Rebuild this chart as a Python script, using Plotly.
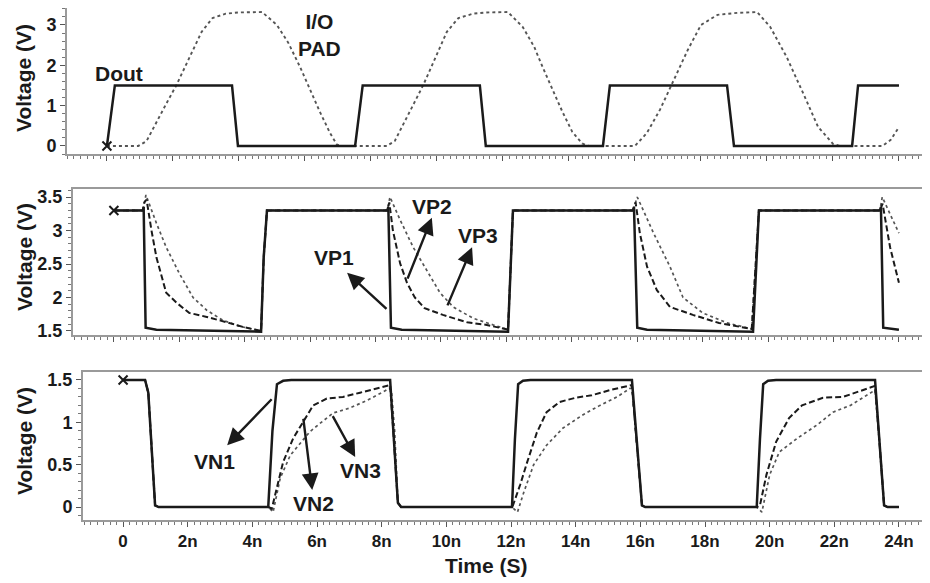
import plotly.graph_objects as go

# ---------------- data ----------------
# Top panel (time in ns, voltage in V)
dout_t = [0, 0.24, 3.79, 3.97, 7.52, 7.75, 11.3, 11.48, 15.03, 15.24, 18.79, 19.0, 22.58, 22.76, 24.0]
dout_v = [0, 1.5, 1.5, 0, 0, 1.5, 1.5, 0, 0, 1.5, 1.5, 0, 0, 1.5, 1.5]

pad_t = [0, 0.95, 1.2, 1.5, 1.8, 2.1, 2.5, 2.87, 3.2, 3.6, 4.0, 4.7, 5.15, 5.5, 5.85, 6.15, 6.45, 6.76, 6.97, 7.1,
         8.48, 8.72, 9.0, 9.3, 9.58, 9.95, 10.3, 10.65, 11.1, 11.5, 12.15, 12.6, 12.95, 13.2, 13.5, 13.8, 14.1, 14.4, 14.6,
         16.0, 16.36, 16.76, 17.1, 17.6, 18.0, 18.5, 19.1, 19.7, 20.1, 20.6, 21.1, 21.55, 22.0, 22.2,
         23.5, 23.75, 24.0]
pad_v = [0, 0, 0.12, 0.6, 1.05, 1.5, 2.2, 2.83, 3.17, 3.28, 3.31, 3.32, 3.0, 2.55, 1.96, 1.4, 0.85, 0.32, 0.03, 0,
         0, 0.12, 0.55, 1.05, 1.5, 2.2, 2.83, 3.17, 3.28, 3.31, 3.32, 2.95, 2.45, 1.96, 1.4, 0.85, 0.35, 0.06, 0,
         0, 0.32, 0.9, 1.5, 2.38, 3.0, 3.25, 3.3, 3.32, 2.95, 2.2, 1.3, 0.47, 0.05, 0,
         0, 0.15, 0.47]

# Middle panel
vp1_t = [0, 0.89, 0.91, 0.97, 1.3, 4.5, 4.58, 4.68, 8.36, 8.39, 8.47, 8.8, 12.05, 12.2, 15.87, 15.9, 16.0, 16.3,
         19.54, 19.72, 23.42, 23.45, 23.52, 24.0]
vp1_v = [3.3, 3.3, 3.35, 1.55, 1.52, 1.49, 2.6, 3.3, 3.3, 3.35, 1.55, 1.52, 1.49, 3.3, 3.3, 3.35, 1.55, 1.52,
         1.49, 3.3, 3.3, 3.35, 1.55, 1.52]

vp2_t = [0, 0.89, 0.93, 1.0, 1.15, 1.3, 1.6, 1.92, 2.3, 2.84, 3.45, 3.95, 4.5, 4.58, 4.68,
         8.36, 8.42, 8.53, 8.75, 8.96, 9.2, 9.5, 10.06, 10.8, 11.4, 12.05, 12.2,
         15.87, 15.95, 16.08, 16.3, 16.6, 17.0, 17.7, 18.5, 19.5, 19.72,
         23.42, 23.5, 23.73, 24.0]
vp2_v = [3.3, 3.3, 3.42, 3.46, 3.0, 2.6, 2.07, 1.92, 1.77, 1.71, 1.63, 1.56, 1.5, 2.6, 3.3,
         3.3, 3.42, 3.0, 2.51, 2.22, 2.0, 1.84, 1.74, 1.63, 1.59, 1.52, 3.3,
         3.3, 3.42, 2.96, 2.46, 2.11, 1.86, 1.74, 1.62, 1.53, 3.3,
         3.3, 3.4, 2.75, 2.22]

vp3_t = [0, 0.89, 0.98, 1.3, 1.6, 2.0, 2.42, 2.84, 3.33, 3.85, 4.5, 4.58, 4.68,
         8.36, 8.44, 8.75, 9.15, 9.57, 9.97, 10.37, 10.98, 11.6, 12.05, 12.2,
         15.87, 16.0, 16.5, 17.0, 17.4, 18.0, 18.75, 19.5, 19.72,
         23.42, 23.49, 24.0]
vp3_v = [3.3, 3.3, 3.53, 3.11, 2.75, 2.36, 2.0, 1.81, 1.66, 1.57, 1.5, 2.6, 3.3,
         3.3, 3.5, 3.16, 2.75, 2.41, 2.07, 1.86, 1.69, 1.59, 1.52, 3.3,
         3.3, 3.5, 2.96, 2.46, 2.0, 1.77, 1.62, 1.53, 3.3,
         3.3, 3.5, 2.96]

# Bottom panel
vn1_t = [0, 0.68, 0.78, 0.9, 0.99, 1.1, 4.49, 4.62, 4.76, 4.95, 5.2, 8.26, 8.35, 8.5, 8.6,
         12.03, 12.12, 12.22, 12.37, 12.6, 15.74, 15.9, 16.05, 16.15,
         19.6, 19.7, 19.8, 19.95, 20.2, 23.26, 23.4, 23.54, 23.65, 24.0]
vn1_v = [1.5, 1.5, 1.35, 0.5, 0.02, 0, 0, 0.9, 1.45, 1.49, 1.5, 1.5, 1.0, 0.05, 0,
         0, 0.8, 1.45, 1.49, 1.5, 1.5, 0.7, 0.02, 0,
         0, 0.8, 1.45, 1.49, 1.5, 1.5, 0.75, 0.02, 0, 0]

vn2_t = [0, 0.68, 0.78, 0.9, 0.99, 1.1,
         4.5, 4.6, 4.76, 4.95, 5.26, 5.57, 5.88, 6.3, 6.8, 7.33, 7.86, 8.2,
         8.26, 8.35, 8.5, 8.6,
         12.03, 12.06, 12.28, 12.5, 12.8, 13.1, 13.5, 14.0, 14.5, 15.06, 15.68,
         15.74, 15.9, 16.05, 16.15,
         19.6, 19.7, 19.9, 20.2, 20.6, 21.0, 21.65, 22.27, 22.9, 23.26,
         23.4, 23.54, 23.65, 24.0]
vn2_v = [1.5, 1.5, 1.35, 0.5, 0.02, 0,
         0, -0.02, 0.22, 0.53, 0.81, 1.0, 1.2, 1.28, 1.3, 1.35, 1.4, 1.44,
         1.44, 0.95, 0.05, 0,
         0, 0.02, 0.26, 0.53, 0.88, 1.12, 1.24, 1.29, 1.32, 1.38, 1.44,
         1.44, 0.7, 0.02, 0,
         0, 0.02, 0.38, 0.77, 1.05, 1.2, 1.29, 1.3, 1.38, 1.43,
         0.75, 0.02, 0, 0]

vn3_t = [0, 0.68, 0.78, 0.9, 0.99, 1.1,
         4.5, 4.64, 4.86, 5.17, 5.57, 5.78, 6.1, 6.5, 7.02, 7.55, 8.05, 8.23,
         8.3, 8.4, 8.5, 8.6,
         12.03, 12.2, 12.4, 12.7, 13.1, 13.6, 14.23, 14.75, 15.28, 15.68,
         15.74, 15.9, 16.05, 16.15,
         19.6, 19.76, 20.0, 20.3, 20.85, 21.47, 21.96, 22.5, 22.9, 23.26,
         23.4, 23.54, 23.65, 24.0]
vn3_v = [1.5, 1.5, 1.35, 0.5, 0.02, 0,
         0, -0.06, 0.34, 0.61, 0.79, 0.89, 0.99, 1.11, 1.17, 1.26, 1.36, 1.4,
         1.38, 0.9, 0.05, 0,
         0, -0.06, 0.18, 0.5, 0.73, 0.93, 1.09, 1.2, 1.3, 1.4,
         1.4, 0.7, 0.02, 0,
         0, -0.06, 0.38, 0.65, 0.81, 0.97, 1.12, 1.2, 1.3, 1.38,
         0.75, 0.02, 0, 0]

# Axis ticks
x_tickvals = [0, 2, 4, 6, 8, 10, 12, 14, 16, 18, 20, 22, 24]
x_ticktext = ["0", "2n", "4n", "6n", "8n", "10n", "12n", "14n", "16n", "18n", "20n", "22n", "24n"]
top_yticks = [0, 1, 2, 3]
top_yticklabels = ["0", "1", "2", "3"]
mid_yticks = [1.5, 2, 2.5, 3, 3.5]
mid_yticklabels = ["1.5", "2", "2.5", "3", "3.5"]
bot_yticks = [0, 0.5, 1, 1.5]
bot_yticklabels = ["0", "0.5", "1", "1.5"]

# ---------------- figure ----------------
# the page body has an 8px margin, so the figure is 8px smaller and all page
# pixel positions are shifted by 8px
OFF = 8
W, H = 930 - OFF, 583 - OFF
FONT = "Liberation Sans, Arial, sans-serif"
BLACK = "#1a1a1a"
GRAY = "#555555"


def px(x):
    return (x - OFF) / W


def py(y):
    return min(1, 1 - (y - OFF) / H)


fig = go.Figure()

xmark = dict(symbol="x-thin", size=9, line=dict(color=BLACK, width=2))
# top
fig.add_trace(go.Scatter(x=pad_t, y=pad_v, mode="lines", line=dict(color=GRAY, width=1.9, dash="dot"),
                         xaxis="x", yaxis="y", showlegend=False))
fig.add_trace(go.Scatter(x=dout_t, y=dout_v, mode="lines", line=dict(color=BLACK, width=2.5),
                         xaxis="x", yaxis="y", showlegend=False))
fig.add_trace(go.Scatter(x=[dout_t[0]], y=[dout_v[0]], mode="markers", marker=xmark,
                         xaxis="x", yaxis="y", showlegend=False))
# middle
fig.add_trace(go.Scatter(x=vp3_t, y=vp3_v, mode="lines", line=dict(color=GRAY, width=1.7, dash="dot"),
                         xaxis="x2", yaxis="y2", showlegend=False))
fig.add_trace(go.Scatter(x=vp2_t, y=vp2_v, mode="lines", line=dict(color=BLACK, width=2, dash="6px,3px"),
                         xaxis="x2", yaxis="y2", showlegend=False))
fig.add_trace(go.Scatter(x=vp1_t, y=vp1_v, mode="lines", line=dict(color=BLACK, width=2.5),
                         xaxis="x2", yaxis="y2", showlegend=False))
fig.add_trace(go.Scatter(x=[vp1_t[0]], y=[vp1_v[0]], mode="markers", marker=xmark,
                         xaxis="x2", yaxis="y2", showlegend=False))
# bottom
fig.add_trace(go.Scatter(x=vn3_t, y=vn3_v, mode="lines", line=dict(color=GRAY, width=1.7, dash="dot"),
                         xaxis="x3", yaxis="y3", showlegend=False))
fig.add_trace(go.Scatter(x=vn2_t, y=vn2_v, mode="lines", line=dict(color=BLACK, width=2, dash="6px,3px"),
                         xaxis="x3", yaxis="y3", showlegend=False))
fig.add_trace(go.Scatter(x=vn1_t, y=vn1_v, mode="lines", line=dict(color=BLACK, width=2.5),
                         xaxis="x3", yaxis="y3", showlegend=False))
fig.add_trace(go.Scatter(x=[vn1_t[0]], y=[vn1_v[0]], mode="markers", marker=xmark,
                         xaxis="x3", yaxis="y3", showlegend=False))

frame = dict(showline=True, linecolor="#9a9a9a", linewidth=2, showgrid=False, zeroline=False,
             ticks="outside", tickcolor="#555", ticklen=5, tickwidth=1, automargin=False)


def xaxis(dom, rng, labels, anchor):
    return dict(frame, domain=dom, range=rng, anchor=anchor, mirror=True,
                tickmode="array", tickvals=x_tickvals,
                ticktext=x_ticktext if labels else [""] * len(x_tickvals),
                tickfont=dict(family=FONT, size=17, color=BLACK, weight="bold"),
                minor=dict(dtick=0.2, tick0=0, ticks="outside", ticklen=3, tickcolor="#777"))


def yaxis(dom, rng, vals, labels, anchor, mdt):
    return dict(frame, domain=dom, range=rng, anchor=anchor, tickmode="array", tickvals=vals,
                ticktext=labels, tickfont=dict(family=FONT, size=18, color=BLACK, weight="bold"),
                minor=dict(dtick=mdt, ticks="outside", ticklen=3, tickcolor="#777"))


fig.update_layout(
    width=W, height=H, margin=dict(l=0, r=0, t=0, b=0),
    paper_bgcolor="white", plot_bgcolor="white",
    font=dict(family=FONT, color=BLACK),
    xaxis=xaxis([px(67), 1], [-1.21, 24.94], False, "y"),
    yaxis=yaxis([py(154), py(8)], [-0.2, 3.42], top_yticks, top_yticklabels, "x", 0.2),
    xaxis2=xaxis([px(73), 1], [-1.25, 24.95], False, "y2"),
    yaxis2=yaxis([py(335), py(189)], [1.44, 3.62], mid_yticks, mid_yticklabels, "x2", 0.1),
    xaxis3=xaxis([px(83), 1], [-1.24, 24.96], True, "y3"),
    yaxis3=yaxis([py(520), py(372)], [-0.153, 1.594], bot_yticks, bot_yticklabels, "x3", 0.1),
)

ann = []
tfont = dict(family=FONT, size=21, color=BLACK)
# axis titles
for yc in (78, 257, 441):
    ann.append(dict(text="<b>Voltage (V)</b>", x=px(24), y=py(yc), xref="paper", yref="paper",
                    showarrow=False, textangle=-90, font=tfont, xanchor="center", yanchor="middle"))
ann.append(dict(text="<b>Time (S)</b>", x=px(486), y=py(565), xref="paper", yref="paper",
                showarrow=False, font=tfont, xanchor="center", yanchor="middle"))
# labels
labels = [("Dout", 119, 73), ("I/O<br>PAD", 319, 35), ("VP1", 334, 258), ("VP2", 432, 206),
          ("VP3", 478, 235), ("VN1", 214, 461), ("VN2", 313, 503), ("VN3", 360, 470)]
for txt, xx, yy in labels:
    ann.append(dict(text="<b>" + txt + "</b>", x=px(xx), y=py(yy), xref="paper", yref="paper",
                    showarrow=False, font=tfont, xanchor="center", yanchor="middle", align="center"))
# arrows (tail -> head) in data coordinates
arrows = [("x2", "y2", 8.38, 1.81, 7.13, 2.37),
          ("x2", "y2", 8.96, 2.26, 9.72, 3.19),
          ("x2", "y2", 10.18, 1.86, 10.95, 2.75),
          ("x3", "y3", 4.64, 1.29, 3.22, 0.73),
          ("x3", "y3", 5.57, 1.06, 5.85, 0.2),
          ("x3", "y3", 6.46, 1.09, 7.18, 0.59)]
for xr, yr, tx, ty, hx, hy in arrows:
    ann.append(dict(text="", x=hx, y=hy, ax=tx, ay=ty, xref=xr, yref=yr, axref=xr, ayref=yr,
                    showarrow=True, arrowhead=2, arrowsize=1.4, arrowwidth=2.4, arrowcolor=BLACK,
                    standoff=0, startstandoff=0))
fig.update_layout(annotations=ann)

fig.write_html("out.html")
